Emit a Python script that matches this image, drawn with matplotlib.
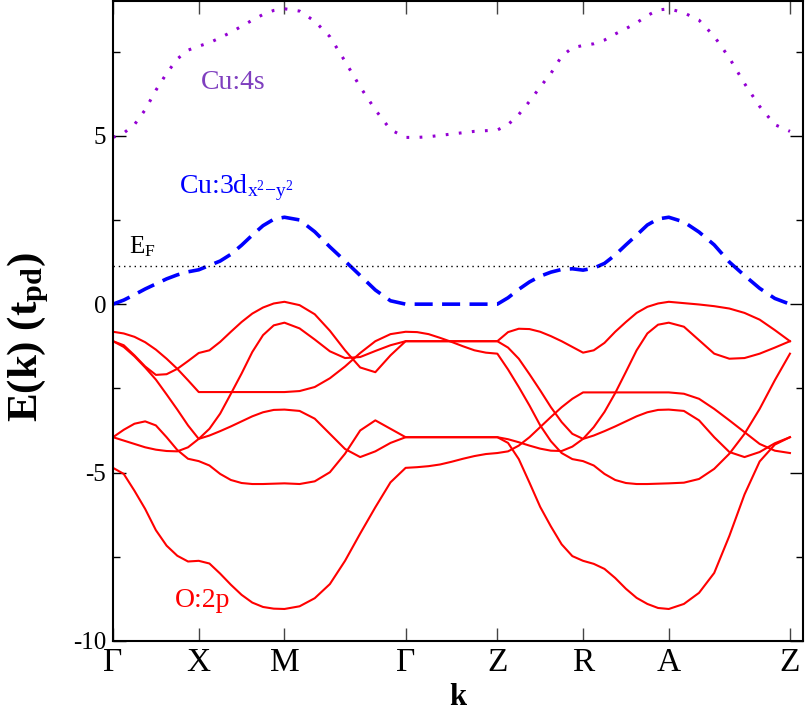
import matplotlib
matplotlib.use("Agg")
import matplotlib.pyplot as plt
import numpy as np

plt.rcParams["font.family"] = ["Liberation Serif", "DejaVu Serif"]
plt.rcParams["mathtext.fontset"] = "custom"
plt.rcParams["mathtext.rm"] = "Liberation Serif"
plt.rcParams["mathtext.it"] = "Liberation Serif:italic"
plt.rcParams["mathtext.bf"] = "Liberation Serif:bold"
plt.rcParams["axes.unicode_minus"] = False

# k-path: Γ-X-M-Γ-Z-R-A-Z
kpoint_labels = ["Γ", "X", "M", "Γ", "Z", "R", "A", "Z"]
segment_lengths = [1.0, 1.0, 1.414, 1.07, 1.0, 1.0, 1.414]

fermi_level = 1.12

# O:2p bands, 9 samples per segment
band_1 = [[-0.82, -0.87, -0.97, -1.13, -1.35, -1.62, -1.92, -2.26, -2.61],
          [-2.61, -2.61, -2.61, -2.61, -2.61, -2.61, -2.61, -2.61, -2.61],
          [-2.61, -2.58, -2.46, -2.20, -1.85, -1.45, -1.10, -0.89, -0.82],
          [-0.82, -0.83, -0.89, -1.00, -1.12, -1.25, -1.37, -1.44, -1.47],
          [-1.47, -1.94, -2.46, -3.01, -3.60, -4.07, -4.42, -4.60, -4.66],
          [-4.66, -4.79, -5.04, -5.22, -5.31, -5.34, -5.34, -5.33, -5.32],
          [-5.32, -5.30, -5.19, -4.89, -4.44, -3.85, -3.11, -2.26, -1.47]]
band_2 = [[-1.10, -1.22, -1.52, -1.85, -2.10, -2.08, -1.92, -1.69, -1.45],
          [-1.45, -1.37, -1.12, -0.82, -0.53, -0.28, -0.10, 0.02, 0.07],
          [0.07, -0.03, -0.30, -0.79, -1.37, -1.88, -2.02, -1.52, -1.10],
          [-1.10, -1.10, -1.10, -1.10, -1.10, -1.10, -1.10, -1.10, -1.10],
          [-1.10, -0.83, -0.73, -0.74, -0.82, -0.95, -1.10, -1.27, -1.44],
          [-1.44, -1.37, -1.15, -0.82, -0.53, -0.26, -0.08, 0.02, 0.07],
          [0.07, 0.03, -0.01, -0.06, -0.13, -0.26, -0.46, -0.77, -1.10]]
band_3 = [[-1.10, -1.27, -1.55, -1.88, -2.24, -2.68, -3.13, -3.60, -4.00],
          [-4.00, -3.70, -3.25, -2.66, -2.06, -1.42, -0.92, -0.63, -0.55],
          [-0.55, -0.72, -1.05, -1.40, -1.60, -1.57, -1.39, -1.22, -1.10],
          [-1.10, -1.10, -1.10, -1.10, -1.10, -1.10, -1.10, -1.10, -1.10],
          [-1.10, -1.29, -1.62, -2.08, -2.56, -3.06, -3.50, -3.85, -4.00],
          [-4.00, -3.65, -3.20, -2.64, -2.01, -1.37, -0.87, -0.61, -0.55],
          [-0.55, -0.67, -1.07, -1.47, -1.62, -1.60, -1.47, -1.29, -1.10]]
band_4 = [[-3.95, -4.05, -4.15, -4.25, -4.32, -4.36, -4.37, -4.25, -4.00],
          [-4.00, -3.90, -3.77, -3.63, -3.48, -3.33, -3.21, -3.14, -3.13],
          [-3.13, -3.17, -3.40, -3.85, -4.30, -4.54, -4.37, -4.12, -3.95],
          [-3.95, -3.95, -3.95, -3.95, -3.95, -3.95, -3.95, -3.95, -3.95],
          [-3.95, -4.01, -4.10, -4.20, -4.29, -4.35, -4.36, -4.23, -4.00],
          [-4.00, -3.90, -3.77, -3.63, -3.48, -3.33, -3.21, -3.14, -3.13],
          [-3.13, -3.17, -3.45, -3.95, -4.39, -4.54, -4.39, -4.13, -3.95]]
band_5 = [[-3.95, -3.73, -3.55, -3.48, -3.60, -3.95, -4.33, -4.59, -4.66],
          [-4.66, -4.79, -5.04, -5.22, -5.31, -5.34, -5.34, -5.33, -5.32],
          [-5.32, -5.34, -5.26, -4.99, -4.44, -3.75, -3.45, -3.70, -3.95],
          [-3.95, -3.95, -3.95, -3.95, -3.95, -3.95, -3.95, -3.95, -3.95],
          [-3.95, -4.12, -4.60, -5.30, -6.02, -6.60, -7.13, -7.48, -7.62],
          [-7.62, -7.71, -7.86, -8.13, -8.45, -8.72, -8.90, -9.02, -9.05],
          [-9.05, -8.90, -8.57, -7.98, -6.88, -5.65, -4.67, -4.17, -3.95]]
band_6 = [[-4.86, -5.04, -5.54, -6.08, -6.71, -7.17, -7.47, -7.64, -7.62],
          [-7.62, -7.70, -8.00, -8.33, -8.63, -8.86, -8.99, -9.04, -9.05],
          [-9.05, -8.97, -8.73, -8.31, -7.62, -6.81, -6.03, -5.29, -4.86],
          [-4.86, -4.84, -4.81, -4.76, -4.68, -4.59, -4.51, -4.45, -4.42],
          [-4.42, -4.37, -4.20, -3.95, -3.65, -3.35, -3.06, -2.81, -2.62],
          [-2.62, -2.62, -2.62, -2.62, -2.62, -2.62, -2.62, -2.62, -2.62],
          [-2.62, -2.66, -2.81, -3.11, -3.45, -3.80, -4.15, -4.35, -4.42]]
o2p_bands = [band_1, band_2, band_3, band_4, band_5, band_6]

# Cu:3d x2-y2 band
cu3d_band = [[0.00, 0.12, 0.28, 0.45, 0.60, 0.75, 0.87, 0.96, 1.02],
             [1.02, 1.15, 1.28, 1.48, 1.75, 2.05, 2.33, 2.52, 2.58],
             [2.58, 2.50, 2.15, 1.70, 1.28, 0.85, 0.42, 0.10, 0.00],
             [0.00, 0.00, 0.00, 0.00, 0.00, 0.00, 0.00, 0.00, 0.00],
             [0.00, 0.19, 0.44, 0.66, 0.83, 0.95, 1.03, 1.05, 1.01],
             [1.01, 1.07, 1.21, 1.46, 1.76, 2.05, 2.35, 2.53, 2.58],
             [2.58, 2.44, 2.14, 1.76, 1.25, 0.85, 0.47, 0.17, 0.00]]

# Cu:4s band
cu4s_band = [[4.95, 5.08, 5.33, 5.77, 6.35, 6.85, 7.28, 7.54, 7.66],
             [7.66, 7.76, 7.91, 8.07, 8.25, 8.43, 8.60, 8.72, 8.77],
             [8.77, 8.70, 8.40, 7.94, 7.21, 6.45, 5.77, 5.18, 4.95],
             [4.95, 4.95, 4.97, 5.01, 5.05, 5.09, 5.13, 5.15, 5.17],
             [5.17, 5.33, 5.63, 6.02, 6.45, 6.85, 7.36, 7.61, 7.68],
             [7.68, 7.73, 7.84, 8.02, 8.18, 8.35, 8.57, 8.73, 8.77],
             [8.77, 8.65, 8.43, 7.95, 7.31, 6.55, 5.87, 5.33, 5.13]]

knodes = np.concatenate([[0.0], np.cumsum(segment_lengths)])


def path(band):
    ks, es = [], []
    for i, seg in enumerate(band):
        k = np.linspace(knodes[i], knodes[i + 1], len(seg))
        start = 0 if i == 0 else 1
        ks.extend(k[start:])
        es.extend(seg[start:])
    return np.array(ks), np.array(es)


fig = plt.figure(figsize=(8.05, 7.13), dpi=100)
ax = fig.add_axes([0.1404, 0.1010, 0.8571, 0.8976])

for band in o2p_bands:
    k, e = path(band)
    ax.plot(k, e, color="red", lw=1.5, solid_joinstyle="round")

k, e = path(cu3d_band)
ax.plot(k, e, color="blue", lw=2.6, linestyle=(0, (5, 2.6)))

k, e = path(cu4s_band)
ax.plot(k, e, color="#9400d3", lw=2.2, linestyle=(0, (0.9, 3.4)))

ax.axhline(fermi_level, color="black", lw=1.0, linestyle=(0, (1, 2.8)))

ax.text(1.022, 6.4, "Cu:4s", color="#7f3fbf", fontsize=20)
ax.text(0.766, 3.30, r"Cu:3d$_{\mathrm{x}^{2}\mathrm{-y}^{2}}$", color="blue", fontsize=20)
ax.text(0.183, 1.52, r"E$_{\mathrm{F}}$", color="black", fontsize=18)
ax.text(0.727, -8.98, "O:2p", color="red", fontsize=20)

ax.set_xlim(0, 8.05)
ax.set_ylim(-10, 9)
ax.set_xticks(knodes)
ax.set_xticklabels(kpoint_labels, fontsize=24)
ax.set_yticks([-10, -5, 0, 5])
ax.set_yticks([-7.5, -2.5, 2.5, 7.5], minor=True)
ax.tick_params(axis="y", labelsize=18)
ax.tick_params(axis="x", direction="in", length=9.5, width=1, color="#444444",
               top=True, pad=5)
ax.tick_params(axis="y", which="major", direction="in", length=9.5, width=1,
               right=True, pad=5)
ax.tick_params(axis="y", which="minor", direction="in", length=5, width=1,
               right=True)
for s in ax.spines.values():
    s.set_linewidth(1.5)

ax.set_xlabel("k", fontsize=22, fontweight="bold")
ax.set_ylabel(r"E($\mathbf{k}$) (t$_{\mathbf{pd}}$)", fontsize=31, fontweight="bold")
ax.yaxis.set_label_coords(-0.09, 0.475)
ax.xaxis.set_label_coords(0.5, -0.066)

fig.savefig("out.png", dpi=100)
